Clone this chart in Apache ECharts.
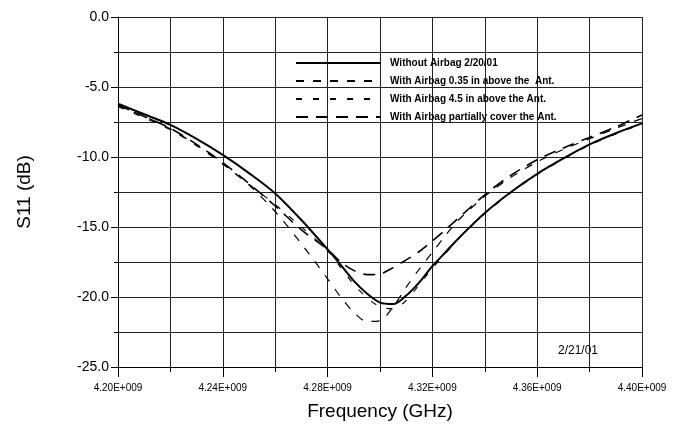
<!DOCTYPE html>
<html>
<head>
<meta charset="utf-8">
<script src="https://cdn.jsdelivr.net/npm/echarts@6/dist/echarts.min.js"></script>
<style>
  html, body { margin: 0; padding: 0; background: #fff; }
  #chart { width: 676px; height: 426px; }
</style>
</head>
<body>
<div id="chart"></div>
<script>
// frequency points (GHz)
var freq = [4.20, 4.21, 4.22, 4.23, 4.24, 4.25, 4.26, 4.27, 4.28, 4.285, 4.29, 4.295, 4.30,
            4.305, 4.31, 4.315, 4.32, 4.325, 4.33, 4.34, 4.35, 4.36, 4.37, 4.38, 4.39, 4.40]

// S11 (dB) per case
var noAirbag = [-6.2, -6.95, -7.7, -8.7, -9.85, -11.15, -12.6, -14.5, -16.6, -17.7, -18.85, -19.75, -20.4,
                -20.5, -19.9, -18.95, -17.8, -16.8, -15.8, -14.0, -12.5, -11.2, -10.1, -9.1, -8.3, -7.6]
var airbag035 = [-6.35, -7.1, -8.0, -9.15, -10.5, -12.0, -13.9, -16.2, -18.7, -20.0, -21.1, -21.75, -21.7,
                 -20.7, -19.3, -18.0, -16.8, -15.6, -14.5, -12.8, -11.45, -10.35, -9.45, -8.7, -7.95, -7.25]
var airbag45 = [-6.4, -7.2, -8.05, -9.2, -10.5, -11.95, -13.4, -15.0, -16.7, -17.9, -19.1, -20.05, -20.7,
                -20.85, -20.25, -19.1, -17.95, -16.9, -15.85, -14.05, -12.55, -11.25, -10.15, -9.15, -8.35, -7.65]
var airbagCover = [-6.3, -7.1, -7.95, -9.1, -10.4, -11.9, -13.5, -15.2, -16.6, -17.5, -18.1, -18.4, -18.35,
                   -17.9, -17.35, -16.75, -16.0, -15.2, -14.35, -12.7, -11.3, -10.2, -9.35, -8.6, -7.85, -7.0]

var names = [
  'Without Airbag 2/20/01',
  'With Airbag 0.35 in above the  Ant.',
  'With Airbag 4.5 in above the Ant.',
  'With Airbag partially cover the Ant.'
]

var FONT = 'Liberation Sans, Arial, sans-serif'

function pairs(ys) {
  return freq.map(function (f, i) { return [f, ys[i]] })
}

var myChart = echarts.init(document.getElementById('chart'))

var option = {
  backgroundColor: '#fff',
  animation: false,
  grid: { left: 118, right: 34, top: 17, bottom: 59 },
  legend: {
    orient: 'vertical',
    left: 295,
    top: 56,
    itemWidth: 85,
    itemHeight: 14,
    itemGap: 4,
    padding: 0,
    itemStyle: { opacity: 0 },
    textStyle: { fontFamily: FONT, fontSize: 10, fontWeight: 'bold', color: '#000', padding: [0, 0, 0, 4], lineHeight: 14 },
    data: names
  },
  graphic: [{
    type: 'text',
    left: 558,
    top: 345,
    style: { text: '2/21/01', fontFamily: FONT, fontSize: 12, fill: '#000' }
  }],
  xAxis: {
    type: 'value',
    min: 4.20,
    max: 4.40,
    interval: 0.04,
    name: 'Frequency (GHz)',
    nameLocation: 'middle',
    nameGap: 35,
    nameTextStyle: { fontFamily: FONT, fontSize: 19, color: '#000' },
    axisLine: { show: true, onZero: false, lineStyle: { color: '#000', width: 1 } },
    axisTick: { show: true, length: 10, lineStyle: { color: '#000' } },
    minorTick: { show: true, splitNumber: 2, length: 5, lineStyle: { color: '#000' } },
    axisLabel: {
      margin: 16,
      fontFamily: FONT,
      fontSize: 10,
      color: '#000',
      formatter: function (v) { return v.toFixed(2) + 'E+009' }
    },
    splitLine: { show: true, lineStyle: { color: '#222', width: 1 } },
    minorSplitLine: { show: true, lineStyle: { color: '#222', width: 1 } }
  },
  yAxis: {
    type: 'value',
    min: -25,
    max: 0,
    interval: 5,
    name: 'S11 (dB)',
    nameLocation: 'middle',
    nameGap: 84,
    nameTextStyle: { fontFamily: FONT, fontSize: 19, color: '#000' },
    axisLine: { show: true, lineStyle: { color: '#000', width: 1 } },
    axisTick: { show: true, length: 7, lineStyle: { color: '#000' } },
    minorTick: { show: true, splitNumber: 2, length: 4, lineStyle: { color: '#000' } },
    axisLabel: {
      margin: 9,
      fontFamily: FONT,
      fontSize: 14,
      color: '#000',
      formatter: function (v) { return v.toFixed(1) }
    },
    splitLine: { show: true, lineStyle: { color: '#222', width: 1 } },
    minorSplitLine: { show: true, lineStyle: { color: '#222', width: 1 } }
  },
  series: [
    {
      name: names[0], type: 'line', smooth: 0.3, symbol: 'none', z: 5,
      lineStyle: { color: '#000', width: 2 },
      itemStyle: { color: '#000' },
      data: pairs(noAirbag)
    },
    {
      name: names[1], type: 'line', smooth: 0.3, symbol: 'none', z: 4,
      lineStyle: { color: '#000', width: 1.2, type: [8, 9] },
      itemStyle: { color: '#000' },
      data: pairs(airbag035)
    },
    {
      name: names[2], type: 'line', smooth: 0.3, symbol: 'none', z: 4,
      lineStyle: { color: '#000', width: 1.1, type: [6, 11] },
      itemStyle: { color: '#000' },
      data: pairs(airbag45)
    },
    {
      name: names[3], type: 'line', smooth: 0.3, symbol: 'none', z: 4,
      lineStyle: { color: '#000', width: 1.6, type: [12, 8] },
      itemStyle: { color: '#000' },
      data: pairs(airbagCover)
    }
  ]
}

myChart.setOption(option)
</script>
</body>
</html>
